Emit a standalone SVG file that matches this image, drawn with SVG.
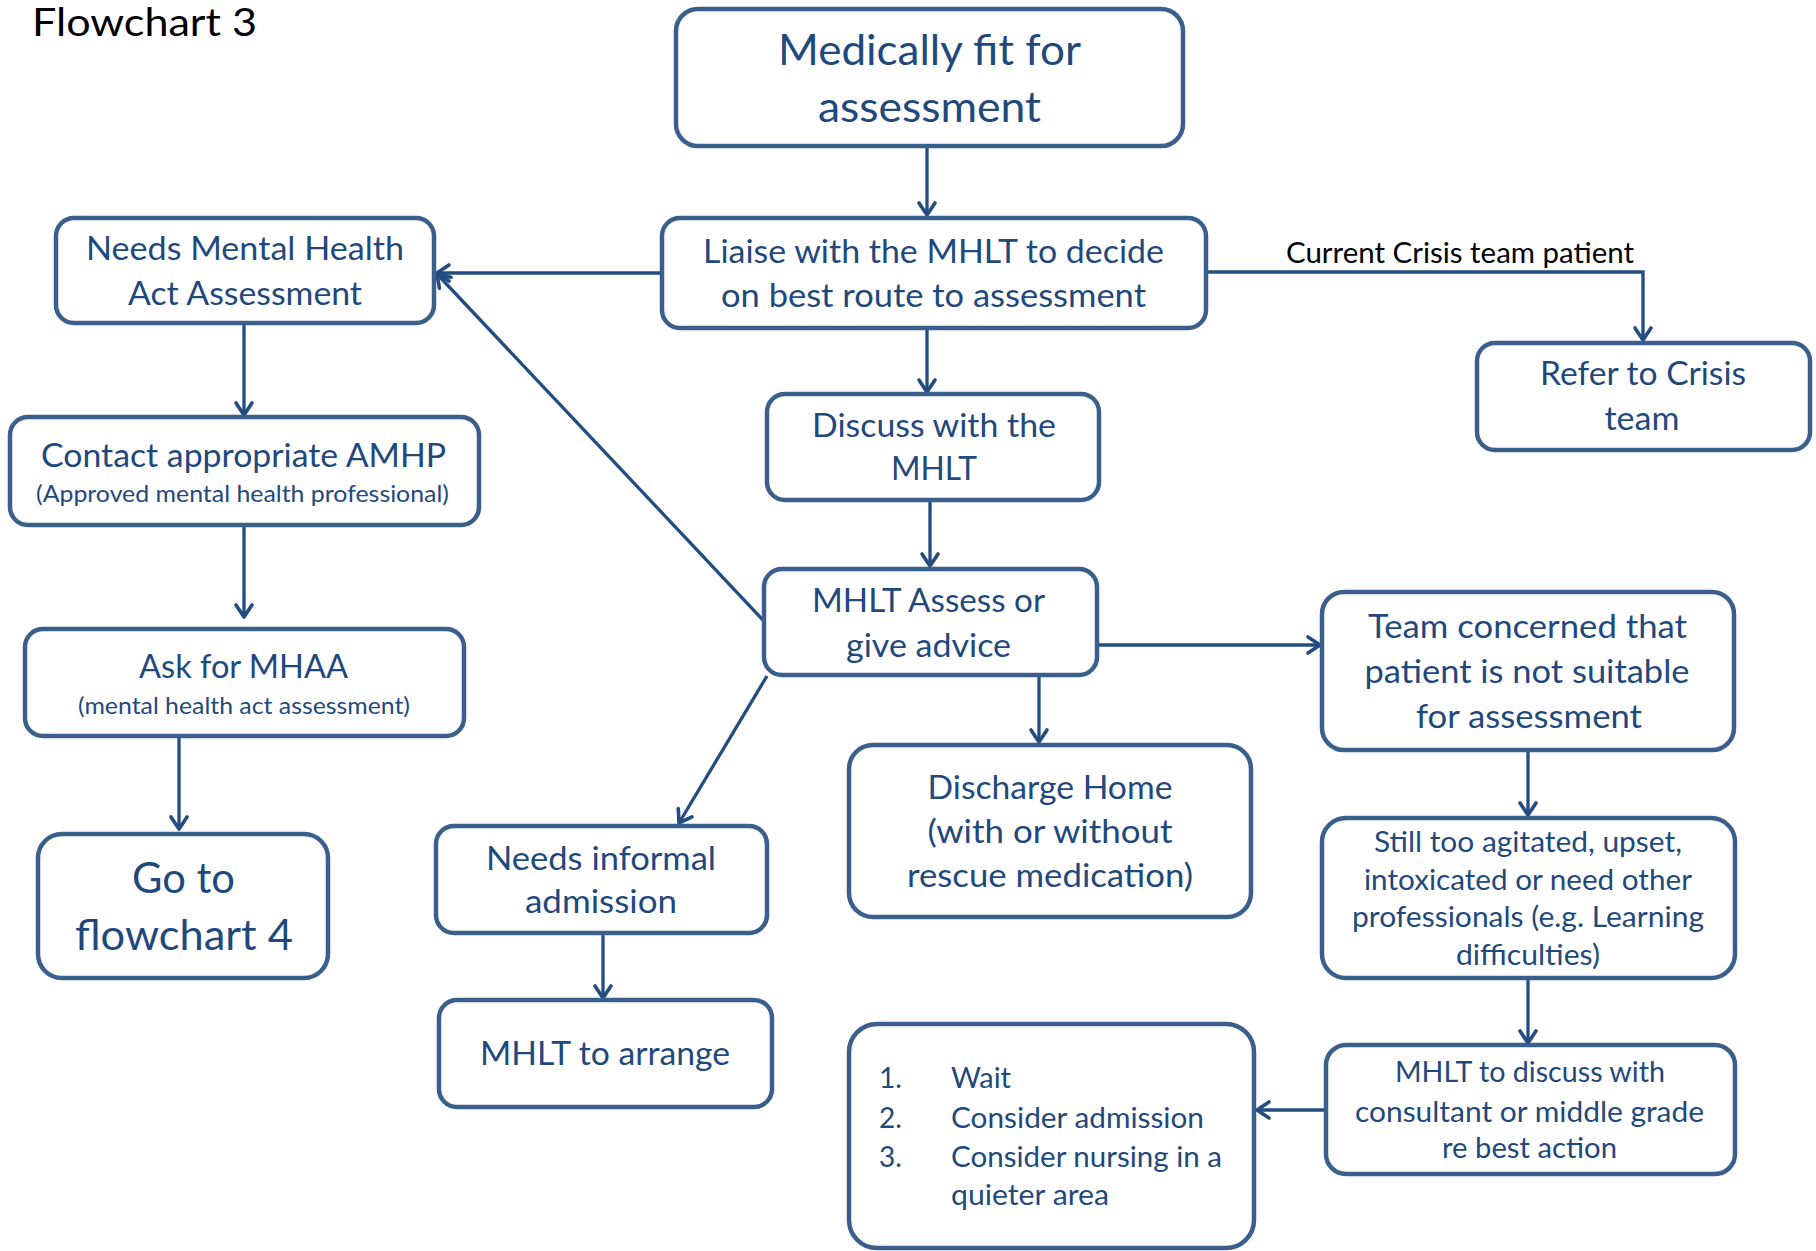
<svg xmlns="http://www.w3.org/2000/svg" width="1816" height="1251" viewBox="0 0 1816 1251">
<defs>
<style>
.box{fill:#FFFFFF;stroke:#3A5F8D;stroke-width:4.5}
.t{font-family:Lato,"Open Sans","Liberation Sans",sans-serif;fill:#1F497D;text-anchor:middle}
.l{font-size:42px}
.m{font-size:32.5px}
.s{font-size:28px}
.xs{font-size:23px}
.lbl{font-family:Lato,"Open Sans","Liberation Sans",sans-serif;fill:#000000}
.c{fill:none;stroke:#234D80;stroke-width:3.3}
</style>
<marker id="arr" markerUnits="userSpaceOnUse" markerWidth="30" markerHeight="30" viewBox="-15 -15 30 30" refX="0" refY="0" orient="auto">
<path d="M-12,-8 L0,0 L-12,8" fill="none" stroke="#234D80" stroke-width="3.6" stroke-linecap="round" stroke-linejoin="round"/>
</marker>
</defs>
<rect width="1816" height="1251" fill="#FFFFFF"/>
<text class="lbl" x="32" y="36" font-size="38" textLength="225" lengthAdjust="spacingAndGlyphs">Flowchart 3</text>

<g id="connectors">
<path class="c" d="M927,147 V215" marker-end="url(#arr)"/>
<path class="c" d="M927,328 V392" marker-end="url(#arr)"/>
<path class="c" d="M930,500 V566" marker-end="url(#arr)"/>
<path class="c" d="M662,273 H437" marker-end="url(#arr)"/>
<path class="c" d="M763,620 L437,274" marker-end="url(#arr)"/>
<path class="c" d="M1206,272 H1643 V340" marker-end="url(#arr)"/>
<path class="c" d="M244,323 V415" marker-end="url(#arr)"/>
<path class="c" d="M244,525 V617" marker-end="url(#arr)"/>
<path class="c" d="M179,736 V829" marker-end="url(#arr)"/>
<path class="c" d="M1097,645 H1320" marker-end="url(#arr)"/>
<path class="c" d="M1039,675 V742" marker-end="url(#arr)"/>
<path class="c" d="M767,676 L679,823" marker-end="url(#arr)"/>
<path class="c" d="M603,933 V998" marker-end="url(#arr)"/>
<path class="c" d="M1528,750 V815" marker-end="url(#arr)"/>
<path class="c" d="M1528,978 V1043" marker-end="url(#arr)"/>
<path class="c" d="M1326,1110 H1257" marker-end="url(#arr)"/>
<text class="lbl" x="1286" y="263" font-size="28" textLength="348" lengthAdjust="spacingAndGlyphs">Current Crisis team patient</text>
</g>

<g id="medically">
<rect class="box" x="676" y="9" width="507" height="137" rx="22"/>
<text class="t l" x="929.5" y="65" textLength="303" lengthAdjust="spacingAndGlyphs">Medically fit for</text>
<text class="t l" x="929.5" y="122" textLength="223" lengthAdjust="spacingAndGlyphs">assessment</text>
</g>

<g id="liaise">
<rect class="box" x="662" y="218" width="544" height="110" rx="18"/>
<text class="t m" x="933.5" y="263" textLength="461" lengthAdjust="spacingAndGlyphs">Liaise with the MHLT to decide</text>
<text class="t m" x="933.5" y="307" textLength="425" lengthAdjust="spacingAndGlyphs">on best route to assessment</text>
</g>

<g id="needs-mha">
<rect class="box" x="56" y="218" width="378" height="105" rx="18"/>
<text class="t m" x="245" y="260" textLength="318" lengthAdjust="spacingAndGlyphs">Needs Mental Health</text>
<text class="t m" x="245" y="305" textLength="234" lengthAdjust="spacingAndGlyphs">Act Assessment</text>
</g>

<g id="refer-crisis">
<rect class="box" x="1477" y="343" width="333" height="107" rx="18"/>
<text class="t m" x="1643" y="385" textLength="206" lengthAdjust="spacingAndGlyphs">Refer to Crisis</text>
<text class="t m" x="1642" y="430" textLength="75" lengthAdjust="spacingAndGlyphs">team</text>
</g>

<g id="discuss">
<rect class="box" x="767" y="394" width="332" height="106" rx="18"/>
<text class="t m" x="934" y="437" textLength="244" lengthAdjust="spacingAndGlyphs">Discuss with the</text>
<text class="t m" x="934" y="480" textLength="86" lengthAdjust="spacingAndGlyphs">MHLT</text>
</g>

<g id="assess">
<rect class="box" x="764" y="569" width="333" height="106" rx="18"/>
<text class="t m" x="928.5" y="612" textLength="233" lengthAdjust="spacingAndGlyphs">MHLT Assess or</text>
<text class="t m" x="928.5" y="657" textLength="165" lengthAdjust="spacingAndGlyphs">give advice</text>
</g>

<g id="team-concerned">
<rect class="box" x="1322" y="592" width="412" height="158" rx="22"/>
<text class="t m" x="1527.5" y="638" textLength="319" lengthAdjust="spacingAndGlyphs">Team concerned that</text>
<text class="t m" x="1527" y="683" textLength="325" lengthAdjust="spacingAndGlyphs">patient is not suitable</text>
<text class="t m" x="1529" y="728" textLength="226" lengthAdjust="spacingAndGlyphs">for assessment</text>
</g>

<g id="discharge">
<rect class="box" x="849" y="745" width="402" height="172" rx="24"/>
<text class="t m" x="1050" y="799" textLength="245" lengthAdjust="spacingAndGlyphs">Discharge Home</text>
<text class="t m" x="1050" y="843" textLength="245" lengthAdjust="spacingAndGlyphs">(with or without</text>
<text class="t m" x="1050" y="887" textLength="286" lengthAdjust="spacingAndGlyphs">rescue medication)</text>
</g>

<g id="informal">
<rect class="box" x="436" y="826" width="331" height="107" rx="18"/>
<text class="t m" x="601" y="870" textLength="230" lengthAdjust="spacingAndGlyphs">Needs informal</text>
<text class="t m" x="601" y="913" textLength="152" lengthAdjust="spacingAndGlyphs">admission</text>
</g>

<g id="arrange">
<rect class="box" x="439" y="1000" width="333" height="107" rx="18"/>
<text class="t m" x="605" y="1065" textLength="250" lengthAdjust="spacingAndGlyphs">MHLT to arrange</text>
</g>

<g id="options">
<rect class="box" x="849" y="1024" width="405" height="224" rx="28"/>
<text class="t s" x="879" y="1088" style="text-anchor:start">1.</text>
<text class="t s" x="951" y="1088" style="text-anchor:start" textLength="60" lengthAdjust="spacingAndGlyphs">Wait</text>
<text class="t s" x="879" y="1128" style="text-anchor:start">2.</text>
<text class="t s" x="951" y="1128" style="text-anchor:start" textLength="253" lengthAdjust="spacingAndGlyphs">Consider admission</text>
<text class="t s" x="879" y="1167" style="text-anchor:start">3.</text>
<text class="t s" x="951" y="1167" style="text-anchor:start" textLength="271" lengthAdjust="spacingAndGlyphs">Consider nursing in a</text>
<text class="t s" x="951" y="1205" style="text-anchor:start" textLength="158" lengthAdjust="spacingAndGlyphs">quieter area</text>
</g>

<g id="still-agitated">
<rect class="box" x="1322" y="818" width="413" height="160" rx="24"/>
<text class="t s" x="1528" y="852" textLength="308" lengthAdjust="spacingAndGlyphs">Still too agitated, upset,</text>
<text class="t s" x="1528" y="890" textLength="328" lengthAdjust="spacingAndGlyphs">intoxicated or need other</text>
<text class="t s" x="1528" y="927" textLength="352" lengthAdjust="spacingAndGlyphs">professionals (e.g. Learning</text>
<text class="t s" x="1528" y="965" textLength="144" lengthAdjust="spacingAndGlyphs">difficulties)</text>
</g>

<g id="mhlt-discuss">
<rect class="box" x="1326" y="1045" width="409" height="129" rx="20"/>
<text class="t s" x="1530" y="1082" textLength="270" lengthAdjust="spacingAndGlyphs">MHLT to discuss with</text>
<text class="t s" x="1529.5" y="1122" textLength="349" lengthAdjust="spacingAndGlyphs">consultant or middle grade</text>
<text class="t s" x="1529.5" y="1158" textLength="175" lengthAdjust="spacingAndGlyphs">re best action</text>
</g>

<g id="contact-amhp">
<rect class="box" x="10" y="417" width="469" height="108" rx="18"/>
<text class="t m" x="243.5" y="467" textLength="405" lengthAdjust="spacingAndGlyphs">Contact appropriate AMHP</text>
<text class="t xs" x="242.5" y="502" textLength="413" lengthAdjust="spacingAndGlyphs">(Approved mental health professional)</text>
</g>

<g id="ask-mhaa">
<rect class="box" x="25" y="629" width="439" height="107" rx="18"/>
<text class="t m" x="243.5" y="678" textLength="209" lengthAdjust="spacingAndGlyphs">Ask for MHAA</text>
<text class="t xs" x="244" y="714" textLength="332" lengthAdjust="spacingAndGlyphs">(mental health act assessment)</text>
</g>

<g id="goto-4">
<rect class="box" x="38" y="834" width="290" height="144" rx="24"/>
<text class="t l" x="183.5" y="893" textLength="103" lengthAdjust="spacingAndGlyphs">Go to</text>
<text class="t l" x="184" y="950" textLength="218" lengthAdjust="spacingAndGlyphs">flowchart 4</text>
</g>
</svg>
